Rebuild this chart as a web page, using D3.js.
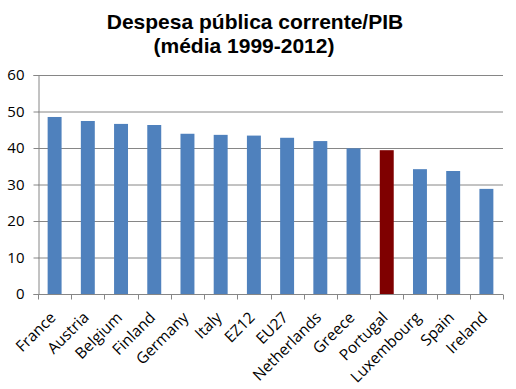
<!DOCTYPE html>
<html>
<head>
<meta charset="utf-8">
<script src="https://d3js.org/d3.v7.min.js"></script>
<style>
  body { margin: 0; background: #fff; }
  text { font-family: "Liberation Sans", Arial, sans-serif; }
</style>
</head>
<body>
<script>
// data
var countries = ["France", "Austria", "Belgium", "Finland", "Germany", "Italy", "EZ12",
                 "EU27", "Netherlands", "Greece", "Portugal", "Luxembourg", "Spain", "Ireland"];
var values = [48.5, 47.4, 46.6, 46.3, 43.9, 43.6, 43.4, 42.8, 41.9, 39.9, 39.4, 34.2, 33.7, 28.8];
var highlight = "Portugal";
var yTicks = [0, 10, 20, 30, 40, 50, 60];
var titleLines = ["Despesa pública corrente/PIB", "(média 1999-2012)"];

var width = 516, height = 389;
var margin = {top: 75, right: 13, bottom: 95, left: 38};

var svg = d3.select("body").append("svg")
    .attr("width", width)
    .attr("height", height);

var x = d3.scaleBand()
    .domain(countries)
    .range([margin.left, width - margin.right])
    .paddingInner(0.58)
    .paddingOuter(0.29);

var y = d3.scaleLinear()
    .domain([0, 60])
    .range([height - margin.bottom, margin.top]);

// gridlines
svg.append("g")
    .selectAll("line")
    .data(yTicks.slice(1))
    .enter().append("line")
    .attr("x1", margin.left)
    .attr("x2", width - margin.right)
    .attr("y1", d => y(d) + 0.5)
    .attr("y2", d => y(d) + 0.5)
    .attr("stroke", "#868686")
    .attr("stroke-width", 1);

// bars
svg.append("g")
    .selectAll("rect")
    .data(countries)
    .enter().append("rect")
    .attr("x", d => x(d))
    .attr("width", x.bandwidth())
    .attr("y", (d, i) => y(values[i]))
    .attr("height", (d, i) => y(0) - y(values[i]))
    .attr("fill", d => d === highlight ? "#7f0000" : "#4f81bd");

// y axis
var yAxis = svg.append("g")
    .attr("transform", "translate(" + (margin.left + 0.5) + ",0)")
    .call(d3.axisLeft(y).tickValues(yTicks).tickSize(5).tickPadding(9));
yAxis.select(".domain").attr("stroke", "#868686");
yAxis.selectAll(".tick line").attr("stroke", "#868686");
yAxis.selectAll("text")
    .attr("font-size", 15)
    .attr("fill", "#000")
    .style("font-family", "'Open Sans', sans-serif");

// x axis: ticks sit between categories
var xAxis = svg.append("g")
    .attr("transform", "translate(0," + (y(0) + 0.5) + ")");
xAxis.append("line")
    .attr("x1", margin.left)
    .attr("x2", width - margin.right)
    .attr("stroke", "#868686");
var step = x.step();
xAxis.selectAll(".tk")
    .data(d3.range(countries.length + 1))
    .enter().append("line")
    .attr("class", "tk")
    .attr("x1", i => Math.round(margin.left + i * step) + 0.5)
    .attr("x2", i => Math.round(margin.left + i * step) + 0.5)
    .attr("y1", 0)
    .attr("y2", 5)
    .attr("stroke", "#868686");
xAxis.selectAll(".lbl")
    .data(countries)
    .enter().append("text")
    .attr("class", "lbl")
    .attr("text-anchor", "end")
    .attr("font-size", 15.5)
    .style("font-family", "'Open Sans', sans-serif")
    .attr("transform", d => "translate(" + (x(d) + x.bandwidth() / 2 + 2) + ",24) rotate(-45)")
    .text(d => d);

// title
svg.append("text")
    .attr("x", 255)
    .attr("y", 29)
    .attr("text-anchor", "middle")
    .attr("font-size", 21)
    .attr("font-weight", "bold")
    .text(titleLines[0]);
svg.append("text")
    .attr("x", 244)
    .attr("y", 53)
    .attr("text-anchor", "middle")
    .attr("font-size", 21)
    .attr("font-weight", "bold")
    .text(titleLines[1]);
</script>
</body>
</html>
